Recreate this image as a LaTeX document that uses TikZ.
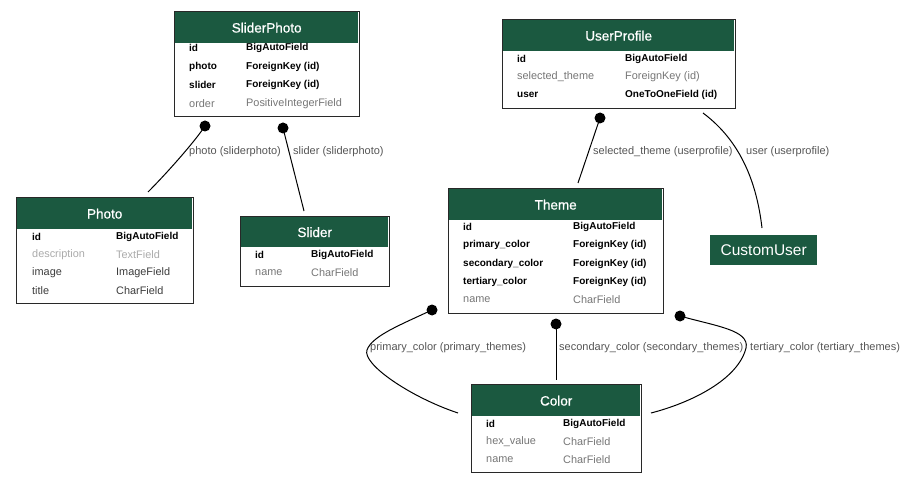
\documentclass[tikz,border=0pt]{standalone}
\usepackage{fontspec}
\setmainfont{Liberation Sans}
\newfontfamily\medfont[FakeBold=0.7]{Liberation Sans}
\definecolor{hdrgreen}{RGB}{27,89,64}
\definecolor{boxline}{RGB}{40,40,40}
\definecolor{txtgray}{RGB}{118,118,118}
\definecolor{txtlight}{RGB}{170,170,170}
\definecolor{txtdark}{RGB}{60,60,60}
\definecolor{lblgray}{RGB}{85,85,85}
\begin{document}
\begin{tikzpicture}[x=1pt,y=-1pt,
  tbox/.style={draw=boxline, line width=1.2pt, fill=none, anchor=north west, inner sep=0pt},
  hdr/.style={fill=hdrgreen, text=white, anchor=north west, inner sep=0pt, font=\medfont\fontsize{13.5}{15}\selectfont},
  rowb/.style={anchor=west, inner sep=0pt, text=black, font=\fontsize{10}{12}\selectfont\bfseries},
  rowg/.style={anchor=west, inner sep=0pt, text=txtgray, font=\fontsize{10.9}{12}\selectfont},
  rowl/.style={anchor=west, inner sep=0pt, text=txtlight, font=\fontsize{10.9}{12}\selectfont},
  rowd/.style={anchor=west, inner sep=0pt, text=txtdark, font=\fontsize{10.9}{12}\selectfont},
  elbl/.style={anchor=west, inner sep=0pt, text=lblgray, font=\fontsize{11}{13}\selectfont},
  conn/.style={draw=black, line width=1pt},
  dot/.style={fill=black},
]
\useasboundingbox (0,0) rectangle (906,484);

% ---------- SliderPhoto ----------
\node[hdr, minimum width=183pt, minimum height=31pt] (sph) at (175,12) {SliderPhoto};
\node[tbox, minimum width=185pt, minimum height=105pt] (sp) at (174,11) {};
\node[rowb] (sp1) at (189,48) {id};
\node[rowb] (sp1t) at (246,48) {BigAutoField};
\node[rowb] (sp2) at (189,67) {photo};
\node[rowb] (sp2t) at (246,67) {ForeignKey (id)};
\node[rowb] (sp3) at (189,85) {slider};
\node[rowb] (sp3t) at (246,85) {ForeignKey (id)};
\node[rowg] (sp4) at (189,104) {order};
\node[rowg] (sp4t) at (246,104) {PositiveIntegerField};

% ---------- UserProfile ----------
\node[hdr, minimum width=231pt, minimum height=31pt] (uph) at (503,20) {UserProfile};
\node[tbox, minimum width=233pt, minimum height=89pt] (up) at (502,19) {};
\node[rowb] (up1) at (517,59) {id};
\node[rowb] (up1t) at (625,59) {BigAutoField};
\node[rowg] (up2) at (517,77) {selected\_theme};
\node[rowg] (up2t) at (625,77) {ForeignKey (id)};
\node[rowb] (up3) at (517,95) {user};
\node[rowb] (up3t) at (625,95) {OneToOneField (id)};

% ---------- Photo ----------
\node[hdr, minimum width=175pt, minimum height=31pt] (phh) at (17,198) {Photo};
\node[tbox, minimum width=177pt, minimum height=106pt] (ph) at (16,197) {};
\node[rowb] (ph1) at (32,237) {id};
\node[rowb] (ph1t) at (116,237) {BigAutoField};
\node[rowl] (ph2) at (32,255) {description};
\node[rowl] (ph2t) at (116,255) {TextField};
\node[rowd] (ph3) at (32,273) {image};
\node[rowd] (ph3t) at (116,273) {ImageField};
\node[rowd] (ph4) at (32,291) {title};
\node[rowd] (ph4t) at (116,291) {CharField};

% ---------- Slider ----------
\node[hdr, minimum width=147pt, minimum height=30pt] (slh) at (241,217) {Slider};
\node[tbox, minimum width=149pt, minimum height=70pt] (sl) at (240,216) {};
\node[rowb] (sl1) at (255,255) {id};
\node[rowb] (sl1t) at (311,255) {BigAutoField};
\node[rowg] (sl2) at (255,273) {name};
\node[rowg] (sl2t) at (311,273) {CharField};

% ---------- Theme ----------
\node[hdr, minimum width=213pt, minimum height=31pt] (thh) at (449,189) {Theme};
\node[tbox, minimum width=215pt, minimum height=125pt] (th) at (448,188) {};
\node[rowb] (th1) at (463,227) {id};
\node[rowb] (th1t) at (573,227) {BigAutoField};
\node[rowb] (th2) at (463,245) {primary\_color};
\node[rowb] (th2t) at (573,245) {ForeignKey (id)};
\node[rowb] (th3) at (463,264) {secondary\_color};
\node[rowb] (th3t) at (573,264) {ForeignKey (id)};
\node[rowb] (th4) at (463,282) {tertiary\_color};
\node[rowb] (th4t) at (573,282) {ForeignKey (id)};
\node[rowg] (th5) at (463,300) {name};
\node[rowg] (th5t) at (573,300) {CharField};

% ---------- Color ----------
\node[hdr, minimum width=168pt, minimum height=31pt] (coh) at (472,385) {Color};
\node[tbox, minimum width=170pt, minimum height=88pt] (co) at (471,384) {};
\node[rowb] (co1) at (486,424) {id};
\node[rowb] (co1t) at (563,424) {BigAutoField};
\node[rowg] (co2) at (486,442) {hex\_value};
\node[rowg] (co2t) at (563,442) {CharField};
\node[rowg] (co3) at (486,460) {name};
\node[rowg] (co3t) at (563,460) {CharField};

% ---------- CustomUser ----------
\node[fill=hdrgreen, text=white, anchor=north west, inner sep=0pt, minimum width=107pt, minimum height=30pt, font=\fontsize{15.5}{17}\selectfont] (cu) at (710,235) {CustomUser};

% ---------- connector ends ----------
\coordinate (e1a) at (205,126);
\coordinate (e1b) at (148,192);
\coordinate (e2a) at (283,128);
\coordinate (e2b) at (304,211);
\coordinate (e3a) at (600,118);
\coordinate (e3b) at (578,183);
\coordinate (e4a) at (703,113);
\coordinate (e4b) at (762,228);
\coordinate (e5a) at (432,310);
\coordinate (e5b) at (458,413);
\coordinate (e6a) at (556,324);
\coordinate (e6b) at (556,380);
\coordinate (e7a) at (680,316);
\coordinate (e7b) at (651,413);

% ---------- connectors ----------
\draw[conn] (e1a) .. controls (196,140) and (168,172) .. (e1b);
\draw[conn] (e2a) -- (e2b);
\draw[conn] (e3a) -- (e3b);
\draw[conn] (e4a) .. controls (742,142) and (757,185) .. (e4b);
\draw[conn] (e5a) .. controls (400,325) and (372,336) .. (367,350)
               .. controls (362,364) and (410,397) .. (e5b);
\draw[conn] (e6a) -- (e6b);
\draw[conn] (e7a) .. controls (715,326) and (750,330) .. (746,348)
               .. controls (738,380) and (690,403) .. (e7b);

\fill[dot] (e1a) circle (5.5);
\fill[dot] (e2a) circle (5.5);
\fill[dot] (e3a) circle (5.5);
\fill[dot] (e5a) circle (5.5);
\fill[dot] (e6a) circle (5.5);
\fill[dot] (e7a) circle (5.5);

% ---------- labels ----------
\node[elbl] (l1) at (189,152) {photo (sliderphoto)};
\node[elbl] (l2) at (293,152) {slider (sliderphoto)};
\node[elbl] (l3) at (593,152) {selected\_theme (userprofile)};
\node[elbl] (l4) at (746,152) {user (userprofile)};
\node[elbl] (l5) at (370,348) {primary\_color (primary\_themes)};
\node[elbl] (l6) at (559,348) {secondary\_color (secondary\_themes)};
\node[elbl] (l7) at (750,348) {tertiary\_color (tertiary\_themes)};
\end{tikzpicture}
\end{document}
